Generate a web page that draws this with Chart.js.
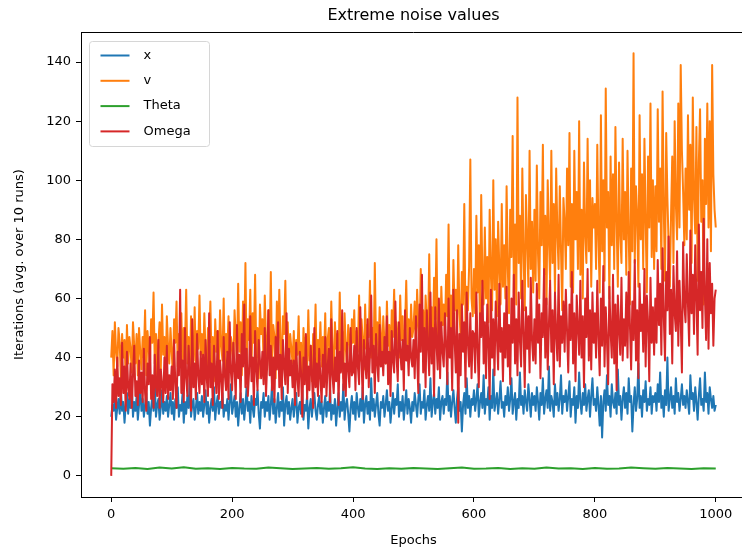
<!DOCTYPE html>
<html>
<head>
<meta charset="utf-8">
<script src="https://cdn.jsdelivr.net/npm/chart.js@4.4.1/dist/chart.umd.min.js"></script>
<style>
  html, body { margin: 0; padding: 0; background: #fff; overflow: hidden; }
  #wrap { width: 750px; height: 548px; }
</style>
</head>
<body>
<div id="wrap"><canvas id="noiseChart" width="750" height="548"></canvas></div>
<script>
// epochs sampled every 2 (x, v, Omega) and every 20 (Theta)
const sampleEpochs = Array.from({ length: 501 }, (_, i) => i * 2);
const thetaEpochs = Array.from({ length: 51 }, (_, i) => i * 20);

// one row = 50 epochs
const xIters = [
  20, 24, 22, 27, 19, 23, 26, 21, 29, 22, 25, 18, 24, 28, 21, 26, 23, 31, 20, 25, 22, 27, 19, 24, 30,
  22, 26, 20, 24, 28, 21, 25, 17, 23, 27, 22, 32, 20, 24, 26, 19, 23, 29, 21, 25, 22, 27, 20, 24, 28,
  21, 25, 19, 26, 23, 30, 20, 24, 22, 28, 18, 25, 21, 27, 23, 33, 20, 24, 26, 19, 23, 28, 21, 25, 22,
  27, 20, 24, 29, 21, 25, 18, 23, 26, 22, 30, 19, 24, 27, 21, 25, 23, 28, 20, 24, 22, 26, 19, 25, 31,
  21, 24, 27, 20, 25, 17, 23, 28, 21, 26, 19, 24, 30, 22, 25, 18, 27, 23, 20, 26, 24, 29, 21, 16, 25,
  23, 28, 20, 25, 22, 27, 19, 24, 31, 21, 26, 18, 23, 28, 20, 25, 22, 30, 17, 24, 27, 21, 25, 19, 23,
  26, 20, 24, 28, 18, 23, 25, 21, 29, 19, 24, 22, 27, 16, 23, 26, 20, 25, 28, 22, 19, 24, 27, 21, 25,
  18, 23, 27, 20, 25, 22, 29, 19, 24, 21, 26, 17, 23, 28, 20, 25, 22, 31, 19, 24, 26, 21, 15, 23, 27,
  21, 25, 19, 28, 23, 20, 26, 22, 30, 18, 24, 27, 21, 25, 19, 33, 22, 26, 20, 24, 28, 21, 17, 25, 23,
  27, 20, 24, 29, 22, 25, 18, 23, 28, 21, 26, 24, 31, 20, 25, 22, 27, 19, 24, 29, 21, 26, 23, 18, 25,
  22, 28, 24, 20, 26, 31, 21, 25, 23, 29, 19, 24, 27, 22, 33, 20, 25, 28, 21, 26, 23, 30, 19, 25, 27,
  21, 26, 24, 35, 22, 27, 20, 25, 29, 23, 18, 26, 30, 22, 25, 15, 24, 28, 21, 33, 23, 27, 20, 26, 24,
  29, 22, 26, 31, 20, 25, 28, 23, 34, 21, 26, 24, 30, 19, 27, 23, 36, 22, 25, 28, 21, 26, 32, 23, 25,
  20, 27, 24, 30, 22, 26, 33, 21, 25, 28, 19, 26, 23, 35, 24, 27, 21, 29, 25, 22, 31, 26, 20, 28, 24,
  27, 22, 30, 25, 19, 28, 24, 33, 21, 26, 29, 23, 37, 22, 27, 25, 20, 31, 24, 28, 22, 26, 34, 21, 27,
  25, 29, 22, 27, 32, 20, 26, 24, 30, 18, 27, 23, 35, 25, 21, 28, 24, 31, 22, 26, 29, 20, 27, 33, 24,
  26, 22, 30, 24, 17, 27, 13, 25, 29, 22, 34, 24, 27, 20, 31, 25, 23, 28, 21, 36, 24, 27, 19, 26, 30,
  23, 28, 21, 33, 25, 27, 15, 24, 30, 22, 26, 38, 23, 27, 20, 29, 25, 32, 22, 26, 24, 30, 21, 27, 25,
  28, 22, 31, 25, 35, 23, 27, 20, 29, 24, 40, 22, 26, 30, 23, 27, 21, 33, 25, 28, 22, 26, 31, 24, 27,
  23, 29, 25, 21, 34, 26, 28, 22, 30, 25, 19, 27, 33, 24, 26, 22, 35, 25, 28, 21, 30, 26, 23, 27, 22,
  24
];

const vIters = [
  40, 49, 34, 52, 42, 37, 50, 45, 33, 48, 40, 46, 32, 51, 38, 47, 43, 35, 52, 44, 38, 48, 34, 50, 42,
  36, 47, 40, 56, 34, 49, 43, 37, 53, 45, 62, 38, 48, 33, 45, 52, 36, 58, 41, 47, 35, 54, 44, 38, 50,
  42, 34, 53, 45, 59, 37, 48, 42, 55, 35, 50, 44, 63, 38, 47, 33, 54, 45, 39, 57, 36, 49, 43, 61, 41,
  48, 37, 55, 42, 34, 50, 45, 59, 38, 47, 32, 53, 42, 49, 36, 56, 44, 39, 60, 35, 48, 42, 54, 37, 47,
  44, 36, 56, 47, 39, 65, 42, 52, 34, 59, 45, 72, 38, 53, 46, 63, 37, 55, 45, 68, 40, 50, 33, 58, 48,
  53, 39, 61, 46, 36, 56, 43, 69, 38, 51, 47, 33, 59, 42, 63, 45, 37, 54, 48, 66, 40, 52, 34, 48, 43,
  38, 49, 33, 46, 41, 54, 35, 45, 30, 50, 40, 47, 36, 56, 39, 44, 32, 48, 41, 58, 34, 46, 39, 52, 37,
  47, 39, 55, 35, 46, 50, 38, 59, 42, 34, 52, 43, 48, 37, 62, 41, 49, 33, 55, 43, 38, 51, 46, 36, 53,
  45, 56, 38, 49, 42, 61, 39, 53, 46, 36, 58, 43, 51, 47, 66, 40, 50, 37, 72, 44, 52, 41, 57, 48, 39,
  54, 45, 38, 59, 44, 51, 35, 56, 47, 63, 41, 52, 46, 40, 61, 46, 54, 37, 50, 66, 44, 53, 42, 58, 47,
  50, 59, 43, 63, 51, 45, 70, 48, 56, 41, 61, 52, 46, 75, 49, 57, 44, 67, 53, 80, 47, 58, 42, 64, 51,
  58, 48, 68, 54, 85, 50, 61, 45, 73, 56, 63, 49, 78, 55, 47, 69, 58, 92, 52, 64, 56, 71, 107, 60, 54,
  70, 55, 88, 62, 78, 50, 95, 66, 58, 84, 60, 74, 52, 90, 68, 56, 100, 63, 80, 54, 86, 70, 58, 92, 64,
  78, 60, 98, 70, 55, 90, 74, 115, 62, 85, 58, 128, 72, 88, 60, 104, 76, 56, 95, 80, 64, 110, 70, 86, 62,
  90, 66, 105, 75, 60, 96, 78, 112, 68, 88, 58, 100, 80, 66, 110, 72, 92, 62, 104, 82, 70, 98, 76, 56, 94,
  86, 70, 104, 78, 116, 64, 92, 62, 110, 80, 96, 70, 120, 68, 90, 60, 106, 82, 72, 114, 76, 100, 64, 94, 84,
  92, 70, 112, 80, 62, 122, 76, 100, 66, 131, 84, 96, 60, 108, 78, 102, 70, 118, 86, 64, 106, 82, 72, 114, 80,
  96, 68, 110, 82, 58, 104, 76, 143, 72, 98, 88, 64, 122, 80, 102, 70, 114, 86, 62, 108, 84, 126, 74, 100, 70,
  98, 76, 124, 86, 104, 70, 130, 90, 66, 116, 94, 78, 64, 88, 108, 72, 120, 92, 80, 126, 84, 139, 110, 96, 78,
  104, 80, 122, 90, 112, 72, 128, 94, 82, 118, 66, 106, 124, 86, 100, 58, 114, 92, 126, 84, 120, 76, 139, 102, 90,
  84
];

const thetaIters = [
  2.6, 2.4, 2.7, 2.3, 2.8, 2.5, 2.9, 2.4, 2.6, 2.3, 2.7, 2.5, 2.4, 2.8, 2.6, 2.3, 2.5,
  2.7, 2.4, 2.6, 2.9, 2.5, 2.3, 2.6, 2.4, 2.7, 2.5, 2.3, 2.6, 2.8, 2.4, 2.5, 2.7, 2.3,
  2.6, 2.4, 2.8, 2.5, 2.6, 2.3, 2.7, 2.4, 2.5, 2.8, 2.6, 2.4, 2.7, 2.5, 2.3, 2.6, 2.5
];

const omegaIters = [
  0, 31, 25, 36, 23, 40, 27, 33, 24, 45, 28, 37, 22, 42, 30, 26, 38, 23, 34, 44, 27, 32, 24, 39, 28,
  35, 25, 43, 28, 22, 38, 31, 47, 26, 34, 23, 41, 30, 27, 46, 23, 36, 31, 25, 40, 28, 44, 26, 34, 29,
  37, 26, 46, 31, 23, 42, 34, 63, 28, 39, 25, 50, 33, 27, 44, 35, 22, 53, 30, 38, 26, 48, 34, 28, 42,
  31, 41, 25, 46, 33, 27, 55, 30, 38, 24, 44, 35, 28, 49, 26, 39, 33, 23, 47, 34, 29, 42, 26, 52, 35,
  29, 45, 36, 26, 51, 33, 41, 25, 48, 37, 58, 30, 43, 27, 35, 54, 32, 40, 24, 49, 36, 29, 46, 39, 33,
  42, 31, 50, 27, 38, 56, 34, 44, 29, 40, 25, 47, 36, 52, 30, 41, 26, 46, 37, 31, 55, 28, 43, 34, 39,
  30, 39, 24, 45, 33, 27, 42, 35, 20, 40, 31, 48, 26, 37, 29, 44, 34, 23, 50, 30, 38, 27, 43, 33, 25,
  41, 30, 47, 27, 37, 43, 25, 53, 34, 28, 40, 32, 49, 24, 42, 35, 56, 29, 38, 27, 45, 36, 30, 50, 34,
  35, 44, 29, 50, 37, 31, 57, 39, 26, 46, 38, 33, 53, 30, 41, 61, 35, 44, 28, 48, 38, 32, 51, 37, 42,
  34, 47, 38, 54, 31, 42, 27, 49, 39, 35, 59, 40, 32, 52, 43, 36, 46, 29, 56, 39, 44, 34, 50, 40, 37,
  46, 33, 54, 40, 28, 58, 42, 68, 35, 50, 30, 56, 44, 34, 62, 38, 50, 27, 57, 45, 36, 60, 33, 52, 42,
  37, 55, 44, 31, 60, 40, 50, 29, 63, 46, 35, 56, 18, 48, 34, 58, 42, 52, 30, 62, 45, 37, 55, 33, 49,
  48, 35, 62, 43, 30, 55, 47, 66, 38, 52, 33, 58, 45, 26, 63, 40, 53, 34, 59, 47, 36, 65, 42, 50, 32,
  55, 40, 64, 37, 51, 31, 60, 45, 68, 38, 53, 34, 62, 46, 37, 66, 49, 30, 57, 43, 54, 35, 67, 46, 39,
  53, 38, 65, 45, 58, 33, 55, 47, 70, 40, 60, 36, 51, 66, 42, 56, 31, 62, 48, 39, 68, 37, 54, 45, 59,
  42, 63, 49, 35, 58, 46, 69, 38, 55, 32, 61, 50, 41, 66, 40, 54, 30, 60, 47, 70, 39, 56, 36, 62, 45,
  55, 40, 66, 47, 34, 60, 44, 71, 37, 57, 46, 31, 64, 49, 40, 68, 38, 58, 29, 61, 50, 41, 67, 39, 53,
  44, 62, 40, 69, 51, 36, 59, 46, 73, 39, 56, 33, 65, 49, 58, 42, 70, 37, 61, 52, 32, 67, 45, 57, 41,
  60, 45, 73, 51, 65, 41, 77, 54, 39, 69, 56, 81, 48, 63, 38, 71, 55, 49, 76, 44, 66, 53, 35, 79, 58,
  52, 75, 58, 44, 83, 55, 68, 48, 78, 60, 41, 85, 56, 69, 50, 87, 61, 46, 80, 43, 72, 55, 65, 44, 60,
  63
];

const xTicks = [0, 200, 400, 600, 800, 1000];
const yTicks = [0, 20, 40, 60, 80, 100, 120, 140];

const FONT = "'DejaVu Sans', sans-serif";

function toPoints(epochs, values) {
  return values.map((v, i) => ({ x: epochs[i], y: v }));
}

function series(label, color, epochs, values, order) {
  return {
    label,
    data: toPoints(epochs, values),
    borderColor: color,
    backgroundColor: color,
    borderWidth: 2,
    borderJoinStyle: 'round',
    borderCapStyle: 'butt',
    pointRadius: 0,
    tension: 0,
    fill: false,
    order
  };
}

// matplotlib-style legend drawn inside the axes, plus the top/right spines
const axesExtras = {
  id: 'axesExtras',
  afterDatasetsDraw(chart) {
    const { ctx, chartArea: a } = chart;
    ctx.save();
    ctx.strokeStyle = '#000';
    ctx.lineWidth = 1;
    ctx.beginPath();
    ctx.moveTo(a.left, a.top + 0.5);
    ctx.lineTo(a.right, a.top + 0.5);
    ctx.moveTo(a.right - 0.5, a.top);
    ctx.lineTo(a.right - 0.5, a.bottom);
    ctx.stroke();

    const bx = a.left + 8.5, by = a.top + 9.5, bw = 120, bh = 105;
    ctx.beginPath();
    ctx.roundRect(bx, by, bw, bh, 3);
    ctx.fillStyle = 'rgba(255,255,255,0.8)';
    ctx.fill();
    ctx.strokeStyle = '#d6d6d6';
    ctx.stroke();

    ctx.font = '13px ' + FONT;
    ctx.textBaseline = 'middle';
    ctx.textAlign = 'left';
    chart.data.datasets.forEach((ds, i) => {
      const y = by + 14 + i * 25.3;
      ctx.strokeStyle = ds.borderColor;
      ctx.lineWidth = 2;
      ctx.beginPath();
      ctx.moveTo(bx + 11, y);
      ctx.lineTo(bx + 40, y);
      ctx.stroke();
      ctx.fillStyle = '#000';
      ctx.fillText(ds.label, bx + 54, y);
    });
    ctx.restore();
  }
};

new Chart(document.getElementById('noiseChart').getContext('2d'), {
  type: 'line',
  data: {
    datasets: [
      series('x', '#1f77b4', sampleEpochs, xIters, 3),
      series('v', '#ff7f0e', sampleEpochs, vIters, 2),
      series('Theta', '#2ca02c', thetaEpochs, thetaIters, 1),
      series('Omega', '#d62728', sampleEpochs, omegaIters, 0)
    ]
  },
  options: {
    responsive: false,
    animation: false,
    layout: { padding: { left: 0, right: 4, top: 0, bottom: 0 } },
    plugins: {
      legend: { display: false },
      tooltip: { enabled: false },
      title: {
        display: true,
        text: 'Extreme noise values',
        fullSize: false,
        color: '#000',
        font: { family: FONT, size: 16, weight: 'normal' },
        padding: { top: 6, bottom: 6.8 }
      }
    },
    scales: {
      x: {
        type: 'linear',
        min: -50,
        max: 1050,
        afterFit(scale) { scale.height = 51; },
        afterBuildTicks(scale) { scale.ticks = xTicks.map(v => ({ value: v })); },
        ticks: {
          color: '#000', padding: 5, maxRotation: 0,
          font: { family: FONT, size: 13 },
          callback: v => String(v)
        },
        grid: { drawOnChartArea: false, drawTicks: true, tickLength: 5, tickColor: '#000' },
        border: { display: true, color: '#000', width: 1 },
        title: {
          display: true, text: 'Epochs', color: '#000',
          font: { family: FONT, size: 13 }, padding: { top: 0, bottom: 0 }
        }
      },
      y: {
        type: 'linear',
        min: -7.15,
        max: 150.15,
        afterFit(scale) { scale.width = 81; },
        afterBuildTicks(scale) { scale.ticks = yTicks.map(v => ({ value: v })); },
        ticks: { color: '#000', padding: 5, font: { family: FONT, size: 13 } },
        grid: { drawOnChartArea: false, drawTicks: true, tickLength: 5, tickColor: '#000' },
        border: { display: true, color: '#000', width: 1 },
        title: {
          display: true, text: 'Iterations (avg. over 10 runs)', color: '#000',
          font: { family: FONT, size: 13 }, padding: { top: 12, bottom: 0 }
        }
      }
    }
  },
  plugins: [axesExtras]
});
</script>
</body>
</html>
